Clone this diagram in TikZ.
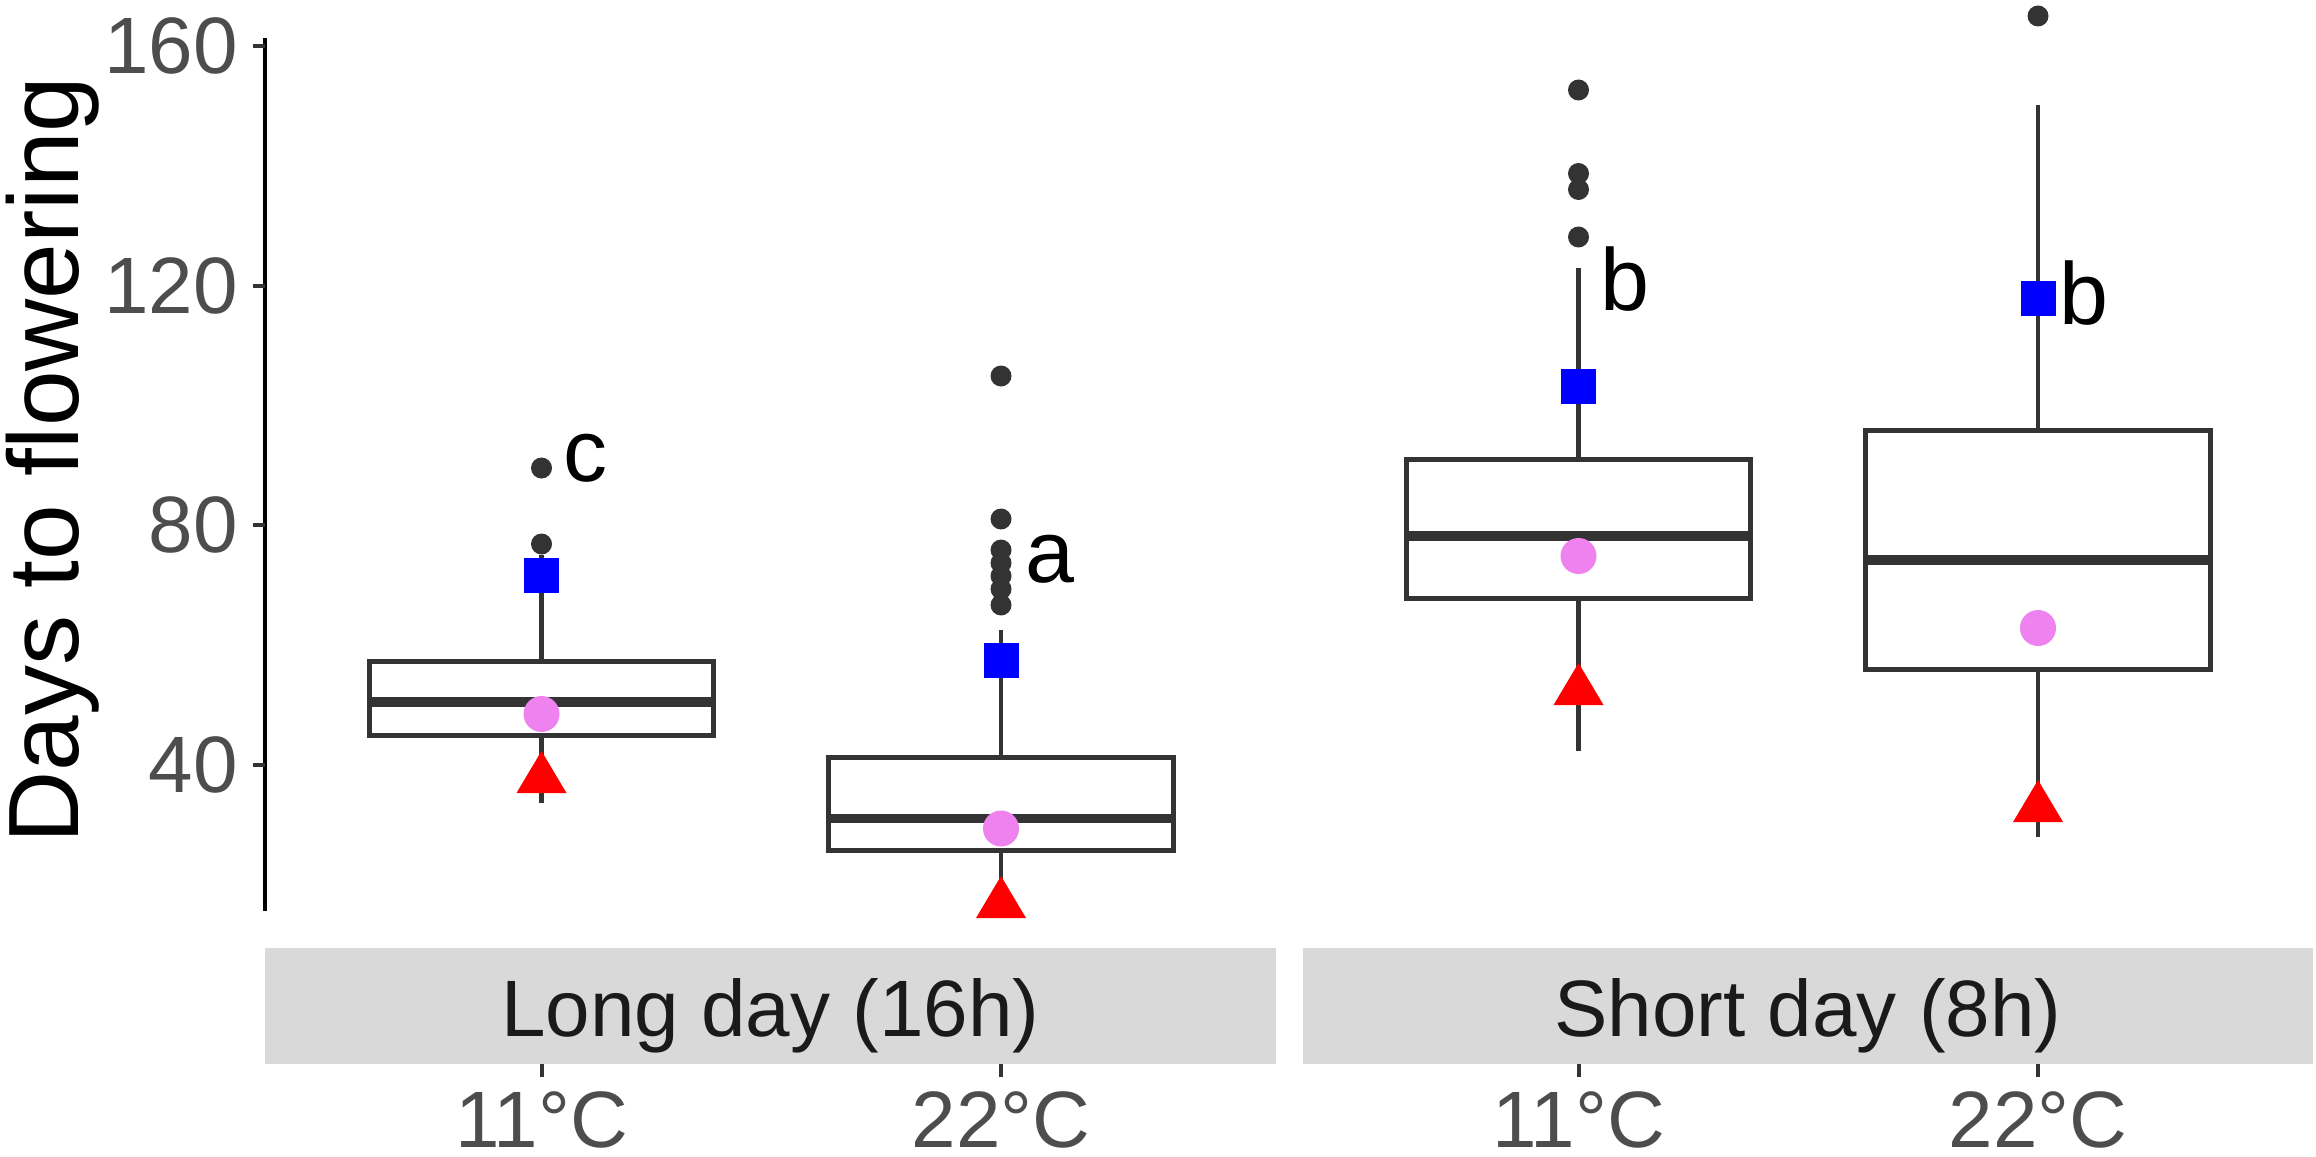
\documentclass[tikz,border=0pt]{standalone}
\usepackage{fontspec}
\setmainfont{Liberation Sans}
\definecolor{gtwenty}{HTML}{333333}
\definecolor{gthirty}{HTML}{4D4D4D}
\definecolor{stripgray}{HTML}{D9D9D9}
\definecolor{stripfg}{HTML}{1A1A1A}
\definecolor{violetc}{HTML}{EE82EE}
\newcommand\mybxp[6]{% x, whisker top, whisker bottom, q3, median, q1
  \draw[whisk] (#1,#2) -- (#1,#4);
  \draw[whisk] (#1,#6) -- (#1,#3);
  \draw[boxbody] (#1-172.3,#4) rectangle (#1+172.3,#6);
  \draw[medline] (#1-172.3,#5) -- (#1+172.3,#5);
}
\newcommand\mytri[3]{% x, apex, base
  \fill[red] (#1-25,#3) -- (#1,#2) -- (#1+25,#3) -- cycle;
}
\begin{document}
\begin{tikzpicture}[x=0.5pt,y=-0.5pt,
  whisk/.style={draw=gtwenty,line width=2.35pt},
  boxbody/.style={draw=gtwenty,fill=white,line width=2.5pt,line join=miter},
  medline/.style={draw=gtwenty,line width=4.7pt},
  outlier/.style={fill=gtwenty},
  meanpt/.style={fill=violetc},
  sqpt/.style={fill=blue},
  tickmark/.style={draw=gtwenty,line width=2pt},
  ticklab/.style={text=gthirty,font=\fontsize{40}{48}\selectfont,inner sep=0pt},
  letlab/.style={text=black,font=\fontsize{44}{52}\selectfont,inner sep=0pt,anchor=base west},
  striptext/.style={text=stripfg,font=\fontsize{40}{48}\selectfont,inner sep=0pt,anchor=base},
  stripbg/.style={fill=stripgray}
]
\useasboundingbox (0,0) rectangle (2316,1156);

% y axis
\draw[black,line width=2pt] (264.5,38) -- (264.5,911);
\foreach \yy/\lab in {46/160,285.7/120,525.3/80,765/40}{
  \draw[tickmark] (253,\yy) -- (264.5,\yy);
  \node[ticklab,anchor=east] (yl\lab) at (238,\yy) {\lab};
}
\node[font=\fontsize{50}{60}\selectfont,rotate=90,anchor=base,inner sep=0pt] (ytitle) at (78.7,460) {Days to flowering};

% boxplots
\mybxp{541.5}{555}{803}{661.5}{702}{735.5}
\mybxp{1001}{629.5}{905}{757}{818.5}{850}
\mybxp{1578.5}{268}{751}{459}{536}{598}
\mybxp{2038}{105}{837}{430}{560}{669}

% outliers
\foreach \yy in {468,544}{\fill[outlier] (541.5,\yy) circle (10.5);}
\foreach \yy in {376,519,550,563,576,589,605}{\fill[outlier] (1001,\yy) circle (10.5);}
\foreach \yy in {90,173.5,189.5,237}{\fill[outlier] (1578.5,\yy) circle (10.5);}
\fill[outlier] (2038,16) circle (10.5);

% means (violet)
\fill[meanpt] (541.5,714) circle (18);
\fill[meanpt] (1001,828.5) circle (18);
\fill[meanpt] (1578.5,556) circle (18);
\fill[meanpt] (2038,628) circle (18);

% triangles
\mytri{541.5}{751}{793}
\mytri{1001}{876}{918}
\mytri{1578.5}{663}{705}
\mytri{2038}{780}{822}

% squares
\fill[sqpt] (541.5-17.5,575.5-17.5) rectangle ++(35,35);
\fill[sqpt] (1001-17.5,660-17.5) rectangle ++(35,35);
\fill[sqpt] (1578.5-17.5,386-17.5) rectangle ++(35,35);
\fill[sqpt] (2038-17.5,298.5-17.5) rectangle ++(35,35);

% letters
\node[letlab] (lc) at (563,481) {c};
\node[letlab] (la) at (1025,582) {a};
\node[letlab] (lb1) at (1600,310) {b};
\node[letlab] (lb2) at (2059,324) {b};

% strips
\fill[stripbg] (265,948) rectangle (1276,1064);
\fill[stripbg] (1303,948) rectangle (2313,1064);
\node[striptext] (sld) at (770.5,1036) {Long day (16h)};
\node[striptext] (ssd) at (1808,1036) {Short day (8h)};

% x ticks and labels
\foreach \xx/\nm/\lab in {541.5/a/11,1001/b/22,1578.5/c/11,2038/d/22}{
  \draw[tickmark] (\xx,1064) -- (\xx,1077);
  \node[ticklab,anchor=base] (xl\nm) at (\xx,1147) {\lab°C};
}
\end{tikzpicture}
\end{document}
